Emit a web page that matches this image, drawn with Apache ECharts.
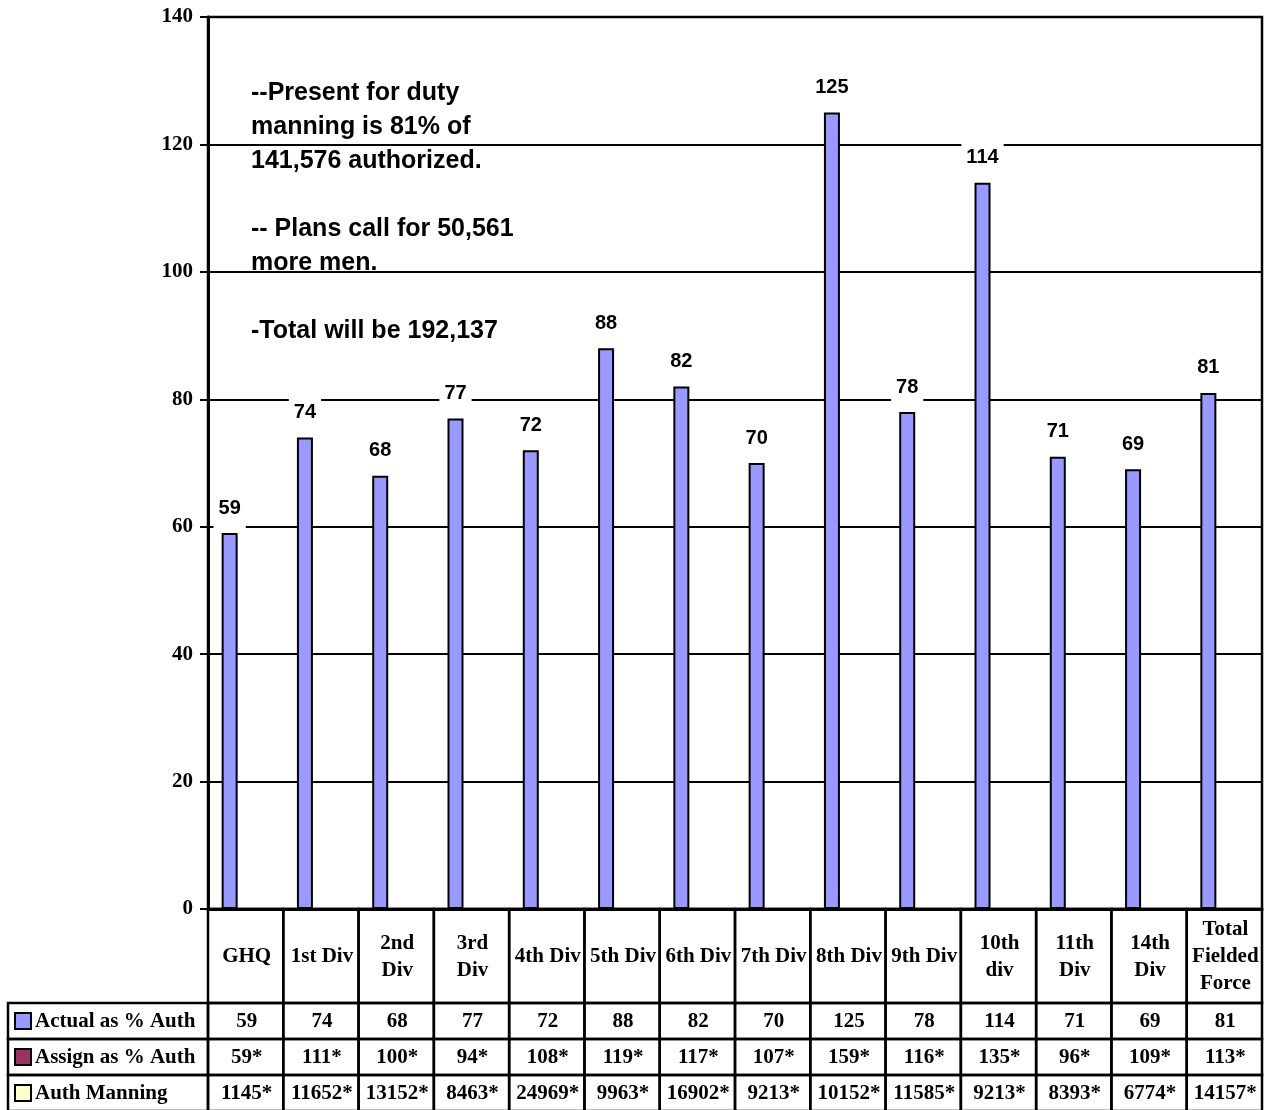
<!DOCTYPE html>
<html>
<head>
<meta charset="utf-8">
<title>Manning by Division</title>
<script src="https://cdn.jsdelivr.net/npm/echarts@6/dist/echarts.min.js"></script>
<style>
  html, body { margin: 0; padding: 0; background: #fff; }
  #chart { width: 1265px; height: 1110px; }
</style>
</head>
<body>
<div id="chart"></div>
<script>
// Units shown along the bottom (table columns)
const categories = ['GHQ', '1st Div', '2nd\nDiv', '3rd\nDiv', '4th Div', '5th Div', '6th Div',
  '7th Div', '8th Div', '9th Div', '10th\ndiv', '11th\nDiv', '14th\nDiv', 'Total\nFielded\nForce'];

// Present-for-duty strength as a percentage of authorized
const actualPct = [59, 74, 68, 77, 72, 88, 82, 70, 125, 78, 114, 71, 69, 81];
// Assigned strength as a percentage of authorized
const assignPct = [59, 111, 100, 94, 108, 119, 117, 107, 159, 116, 135, 96, 109, 113];
// Authorized manning (head count)
const authManning = [1145, 11652, 13152, 8463, 24969, 9963, 16902, 9213, 10152, 11585, 9213, 8393, 6774, 14157];

const seriesNames = ['Actual as % Auth', 'Assign as % Auth', 'Auth Manning'];
const seriesColors = ['#9999FF', '#993366', '#FFFFCC'];

// Value axis
const yMin = 0, yMax = 140, yStep = 20;

const noteText = '--Present for duty\nmanning is 81% of\n141,576 authorized.\n\n' +
  '-- Plans call for 50,561\nmore men.\n\n-Total will be 192,137';

// ---- table layout (row edges along the table's own axis, top to bottom) ----
const rowEdges = [0, 94, 130, 166, 202];
const labelColWidth = 200;
const serif = '"Liberation Serif", "Times New Roman", serif';
const sans = '"Liberation Sans", Arial, sans-serif';

// One entry per table cell
const tableRows = [
  categories,
  actualPct.map(String),
  assignPct.map(v => v + '*'),
  authManning.map(v => v + '*')
];
const cells = [];
tableRows.forEach((row, r) => {
  row.forEach((text, c) => cells.push({ c, r, text, kind: 'cell' }));
});
for (let r = 1; r < tableRows.length; r++) {
  cells.push({ c: 0, r, text: seriesNames[r - 1], kind: 'label', color: seriesColors[r - 1] });
}

const chart = echarts.init(document.getElementById('chart'), null, { renderer: 'canvas' });

const emptyRow = categories.map(() => '-');

const option = {
  backgroundColor: '#fff',
  animation: false,
  grid: [
    { left: 208, right: 3, top: 17, bottom: 201, show: true, borderColor: '#000', borderWidth: 2.5, backgroundColor: 'transparent' },
    { left: 208, right: 3, top: 909, bottom: 0 }
  ],
  xAxis: [
    {
      type: 'category', gridIndex: 0, data: categories,
      axisLine: { show: true, lineStyle: { color: '#000', width: 3 } },
      axisTick: { show: false }, axisLabel: { show: false }, splitLine: { show: false }
    },
    { type: 'category', gridIndex: 1, data: categories, show: false }
  ],
  yAxis: [
    {
      type: 'value', gridIndex: 0, min: yMin, max: yMax, interval: yStep,
      axisLine: { show: true, lineStyle: { color: '#000', width: 3 } },
      axisTick: { show: true, inside: false, length: 8, lineStyle: { color: '#000', width: 2 } },
      axisLabel: { color: '#000', fontFamily: serif, fontWeight: 'bold', fontSize: 21, margin: 15 },
      splitLine: { show: true, lineStyle: { color: '#000', width: 2 } }
    },
    { type: 'value', gridIndex: 1, min: 0, max: 201, inverse: true, show: false }
  ],
  series: [
    {
      name: seriesNames[0], type: 'bar', xAxisIndex: 0, yAxisIndex: 0,
      data: actualPct, barWidth: 16, barGap: '0%', z: 3,
      itemStyle: { color: seriesColors[0], borderColor: '#000', borderWidth: 2 },
      label: {
        show: true, position: 'top', distance: 3,
        color: '#000', fontFamily: sans, fontWeight: 'bold', fontSize: 20, lineHeight: 20,
        backgroundColor: '#fff', padding: [4, 5, 12, 5]
      }
    },
    {
      name: seriesNames[1], type: 'bar', xAxisIndex: 0, yAxisIndex: 0,
      data: emptyRow, barWidth: 16, barGap: '0%',
      itemStyle: { color: seriesColors[1], borderColor: '#000', borderWidth: 2 }
    },
    {
      name: seriesNames[2], type: 'bar', xAxisIndex: 0, yAxisIndex: 0,
      data: emptyRow, barWidth: 16, barGap: '0%',
      itemStyle: { color: seriesColors[2], borderColor: '#000', borderWidth: 2 }
    },
    {
      // data table under the plot
      type: 'custom', xAxisIndex: 1, yAxisIndex: 1, clip: false, z: 5,
      data: cells.map(d => [d.c, d.r]),
      renderItem(params, api) {
        const cell = cells[params.dataIndex];
        const cs = params.coordSys;
        const yTop = api.coord([0, rowEdges[cell.r]])[1];
        const yBot = api.coord([0, rowEdges[cell.r + 1]])[1];
        const h = yBot - yTop;
        const lineStyle = { fill: 'none', stroke: '#000', lineWidth: 2.5 };
        if (cell.kind === 'label') {
          const left = cs.x - labelColWidth;
          const mid = yTop + h / 2;
          return {
            type: 'group',
            children: [
              { type: 'rect', shape: { x: left, y: yTop, width: labelColWidth, height: h }, style: lineStyle },
              { type: 'rect', shape: { x: left + 7, y: mid - 8, width: 16, height: 16 },
                style: { fill: cell.color, stroke: '#000', lineWidth: 2 } },
              { type: 'text', x: left + 27, y: mid + 1,
                style: { text: cell.text, fill: '#000', font: 'bold 21px ' + serif,
                  align: 'left', verticalAlign: 'middle' } }
            ]
          };
        }
        const cx = api.coord([cell.c, 0])[0];
        const w = api.size([1, 0])[0];
        return {
          type: 'group',
          children: [
            { type: 'rect', shape: { x: cx - w / 2, y: yTop, width: w, height: h }, style: lineStyle },
            { type: 'text', x: cx + 1, y: yTop + h / 2 + 1,
              style: { text: cell.text, fill: '#000', font: 'bold 21px ' + serif,
                align: 'center', verticalAlign: 'middle', lineHeight: 27 } }
          ]
        };
      }
    }
  ],
  graphic: [
    {
      type: 'group', left: 243, top: 72, z: 10,
      children: [
        { type: 'rect', shape: { x: 0, y: 0, width: 335, height: 282 }, style: { fill: '#fff' } },
        { type: 'text', x: 8, y: 4,
          style: { text: noteText, fill: '#000', font: 'bold 25px ' + sans, lineHeight: 34 } }
      ]
    }
  ]
};

chart.setOption(option);
</script>
</body>
</html>
